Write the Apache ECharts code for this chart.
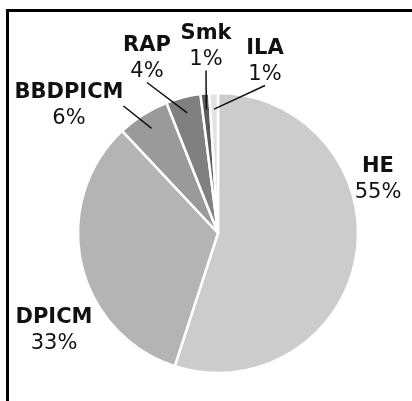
<!DOCTYPE html>
<html>
<head>
<meta charset="utf-8">
<script src="https://cdn.jsdelivr.net/npm/echarts@6/dist/echarts.min.js"></script>
<style>
  html, body { margin: 0; padding: 0; background: #fff; }
  #chart { width: 412px; height: 401px; }
</style>
</head>
<body>
<div id="chart"></div>
<script>
// munition mix, percent of rounds
const categories = ['HE', 'DPICM', 'BBDPICM', 'RAP', 'Smk', 'ILA']
const shares = [55, 33, 6, 4, 1, 1]
const sliceColors = ['#cccccc', '#b4b4b4', '#9a9a9a', '#808080', '#5c5c5c', '#e2e2e2']

// where each label block sits (centre, px) and whether it gets a leader line
const labelPos = [[378, 180], [54, 331], [69, 106], [147, 59], [206, 47], [265, 62]]
const hasLeader = [false, false, true, true, true, true]

const chart = echarts.init(document.getElementById('chart'), null, { renderer: 'canvas' })

const richText = {
  n: { fontFamily: 'DejaVu Sans', fontWeight: 'bold', fontSize: 21, lineHeight: 26, align: 'center' },
  p: { fontFamily: 'DejaVu Sans', fontSize: 21, lineHeight: 26, align: 'center' }
}
const placeLabel = (params) => {
  const p = labelPos[params.dataIndex]
  return { x: p[0], y: p[1], align: 'center', verticalAlign: 'middle' }
}

chart.setOption({
  backgroundColor: '#fff',
  animation: false,
  graphic: [{
    type: 'rect',
    shape: { x: 7.5, y: 10.5, width: 600, height: 600 },
    style: { fill: 'none', stroke: '#000', lineWidth: 3 },
    silent: true
  }],
  series: [
    {
      type: 'pie',
      center: [218, 233],
      radius: 140,
      startAngle: 90,
      clockwise: true,
      data: categories.map((name, i) => ({ name, value: shares[i], itemStyle: { color: sliceColors[i] } })),
      itemStyle: { borderColor: '#fff', borderWidth: 2.5 },
      label: {
        position: 'outside',
        overflow: 'none',
        formatter: '{n|{b}}\n{p|{c}%}',
        color: '#111',
        rich: richText
      },
      labelLine: { show: false },
      labelLayout: placeLabel
    },
    // invisible inner copy: only its leader lines show, so they start inside the slices
    {
      type: 'pie',
      center: [218, 233],
      radius: 124,
      startAngle: 90,
      clockwise: true,
      silent: true,
      z: 3,
      data: categories.map((name, i) => ({ name, value: shares[i], labelLine: { show: hasLeader[i] } })),
      itemStyle: { color: 'rgba(0,0,0,0)', borderWidth: 0 },
      label: {
        position: 'outside',
        overflow: 'none',
        formatter: '{n|{b}}\n{p|{c}%}',
        color: 'rgba(0,0,0,0)',
        padding: [0, 6],
        rich: richText
      },
      labelLine: {
        length: 10,
        length2: 0,
        lineStyle: { color: '#111', width: 1.5 }
      },
      labelLayout: placeLabel
    }
  ]
})
</script>
</body>
</html>
